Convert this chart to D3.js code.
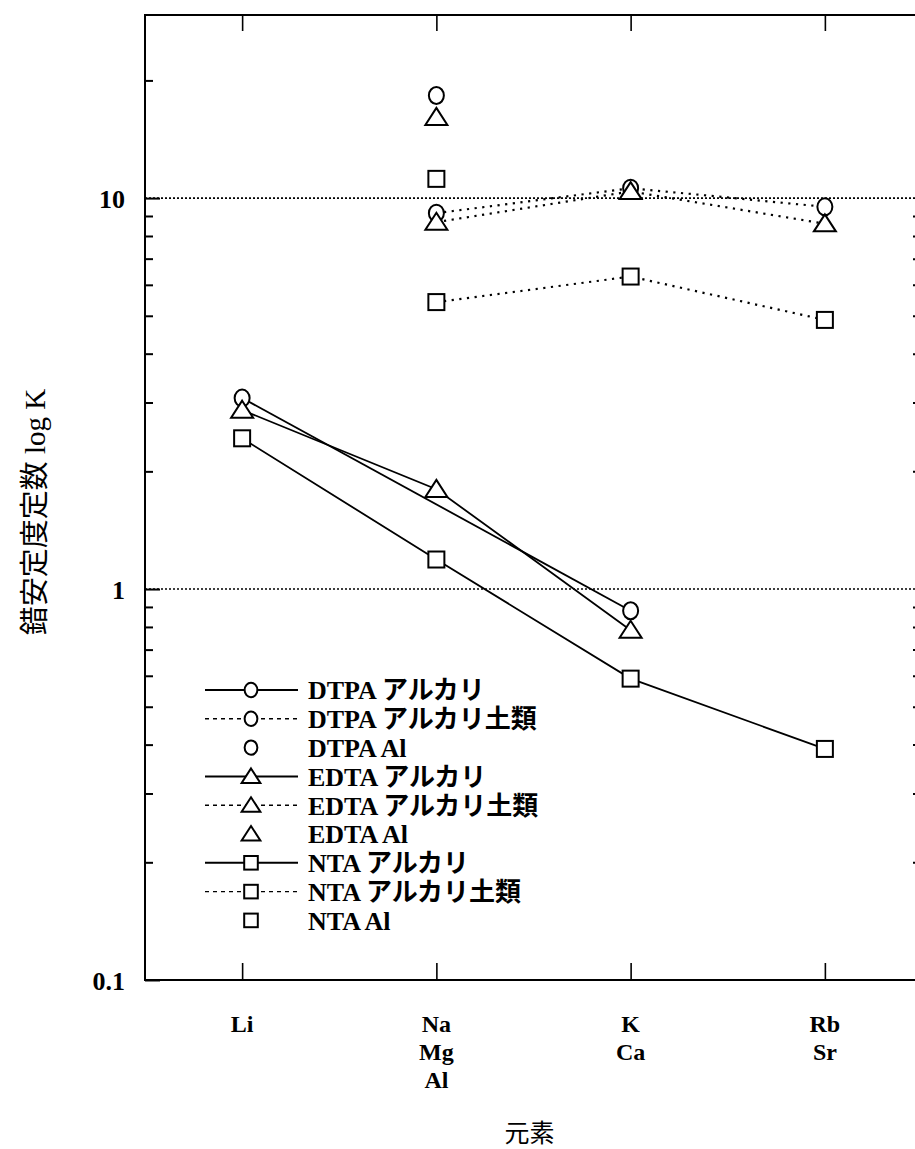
<!DOCTYPE html>
<html>
<head>
<meta charset="utf-8">
<script src="https://cdn.jsdelivr.net/npm/d3@7"></script>
<style>
  body { margin: 0; background: #fff; }
  svg { display: block; }
  text { fill: #000; }
</style>
</head>
<body>
<svg id="chart" width="915" height="1149"></svg>
<script>
// categories (element groups along the x axis)
var groups = ["Li", "Na", "K", "Rb"];
var groupLabels = [["Li"], ["Na", "Mg", "Al"], ["K", "Ca"], ["Rb", "Sr"]];

// stability constants (null = no point)
var dtpaAlkali = [3.08, null, 0.88, null];
var dtpaEarth  = [null, 9.15, 10.6, 9.5];
var dtpaAl     = [null, 18.3, null, null];
var edtaAlkali = [2.87, 1.80, 0.785, null];
var edtaEarth  = [null, 8.68, 10.4, 8.6];
var edtaAl     = [null, 16.1, null, null];
var ntaAlkali  = [2.43, 1.19, 0.59, 0.39];
var ntaEarth   = [null, 5.42, 6.3, 4.88];
var ntaAl      = [null, 11.2, null, null];

var majorTicks = [0.1, 1, 10];
var majorLabels = ["0.1", "1", "10"];
var minorTicks = [0.2, 0.3, 0.4, 0.5, 0.6, 0.7, 0.8, 0.9, 2, 3, 4, 5, 6, 7, 8, 9, 20];
var rightMinorTicks = [0.2, 0.3, 0.4, 0.5, 0.6, 0.7, 0.8, 0.9, 2, 3, 4, 5, 6, 7, 8, 9];

var yTitle = "錯安定度定数 log K";
var xTitle = "元素";

var series = [
    {name: "DTPA アルカリ",     values: dtpaAlkali, shape: "circle",   line: "solid"},
    {name: "DTPA アルカリ土類", values: dtpaEarth,  shape: "circle",   line: "dot"},
    {name: "DTPA Al",           values: dtpaAl,     shape: "circle",   line: "none"},
    {name: "EDTA アルカリ",     values: edtaAlkali, shape: "triangle", line: "solid"},
    {name: "EDTA アルカリ土類", values: edtaEarth,  shape: "triangle", line: "dot"},
    {name: "EDTA Al",           values: edtaAl,     shape: "triangle", line: "none"},
    {name: "NTA アルカリ",      values: ntaAlkali,  shape: "square",   line: "solid"},
    {name: "NTA アルカリ土類",  values: ntaEarth,   shape: "square",   line: "dot"},
    {name: "NTA Al",            values: ntaAl,      shape: "square",   line: "none"}
];

draw();

function draw() {
    var svg = d3.select("#chart");
    var pLeft = 145, pRight = 922, pTop = 15, pBottom = 980;
    var serif = "'Liberation Serif', 'Times New Roman', 'Noto Sans CJK JP', serif";

    var x = d3.scalePoint()
        .domain(groups)
        .range([pLeft, pRight])
        .padding(0.5);

    var y = d3.scaleLog()
        .domain([0.1, 29.4])
        .range([pBottom, pTop]);

    // dotted reference lines at 1 and 10
    svg.append("g").selectAll("line")
        .data([1, 10])
        .enter().append("line")
        .attr("x1", pLeft).attr("x2", pRight)
        .attr("y1", function(d) { return y(d); })
        .attr("y2", function(d) { return y(d); })
        .attr("stroke", "#000")
        .attr("stroke-width", 1.6)
        .attr("stroke-dasharray", "2,2");

    // frame
    svg.append("rect")
        .attr("x", pLeft).attr("y", pTop)
        .attr("width", pRight - pLeft).attr("height", pBottom - pTop)
        .attr("fill", "none")
        .attr("stroke", "#000")
        .attr("stroke-width", 2);

    // left axis: major ticks with labels
    var yAxis = d3.axisLeft(y)
        .tickValues(majorTicks)
        .tickSize(-15)
        .tickPadding(20)
        .tickFormat(function(d, i) { return majorLabels[i]; });

    var gy = svg.append("g")
        .attr("transform", "translate(" + pLeft + ",0)")
        .call(yAxis);
    gy.select(".domain").remove();
    gy.selectAll(".tick line").attr("stroke-width", 2);
    gy.selectAll(".tick text")
        .attr("font-family", serif)
        .attr("font-weight", "bold")
        .attr("font-size", 26)
        .attr("dy", "0.35em");

    // left axis minor ticks
    var gyMinor = svg.append("g")
        .attr("transform", "translate(" + pLeft + ",0)")
        .call(d3.axisLeft(y).tickValues(minorTicks).tickSize(-8).tickFormat(""));
    gyMinor.select(".domain").remove();
    gyMinor.selectAll(".tick line").attr("stroke-width", 2);

    // right axis minor ticks
    var gyRight = svg.append("g")
        .attr("transform", "translate(" + pRight + ",0)")
        .call(d3.axisRight(y).tickValues(rightMinorTicks).tickSize(-9).tickFormat(""));
    gyRight.select(".domain").remove();
    gyRight.selectAll(".tick line").attr("stroke-width", 2);

    // top and bottom category ticks
    var gxTop = svg.append("g")
        .attr("transform", "translate(0," + pTop + ")")
        .call(d3.axisTop(x).tickSize(-16).tickFormat(""));
    gxTop.select(".domain").remove();
    gxTop.selectAll(".tick line").attr("stroke-width", 1.6);

    var gxBottom = svg.append("g")
        .attr("transform", "translate(0," + pBottom + ")")
        .call(d3.axisBottom(x).tickSize(-17).tickFormat(""));
    gxBottom.select(".domain").remove();
    gxBottom.selectAll(".tick line").attr("stroke-width", 1.6);

    // category labels (stacked)
    var labelG = svg.append("g");
    groups.forEach(function(g, i) {
        labelG.append("text")
            .attr("x", x(g))
            .attr("y", 1032)
            .attr("text-anchor", "middle")
            .attr("font-family", serif)
            .attr("font-weight", "bold")
            .attr("font-size", 24)
            .selectAll("tspan")
            .data(groupLabels[i])
            .enter().append("tspan")
            .attr("x", x(g))
            .attr("dy", function(d, j) { return j === 0 ? 0 : 28; })
            .text(function(d) { return d; });
    });

    // axis titles
    svg.append("text")
        .attr("transform", "translate(35,512) rotate(-90)")
        .attr("text-anchor", "middle")
        .attr("dy", "0.35em")
        .attr("font-family", serif)
        .attr("font-size", 29)
        .text(yTitle);

    svg.append("text")
        .attr("x", (pLeft + pRight) / 2 - 4)
        .attr("y", 1142)
        .attr("text-anchor", "middle")
        .attr("font-family", serif)
        .attr("font-size", 25)
        .text(xTitle);

    // marker drawing
    function drawMarker(sel, shape, cx, cy, s) {
        if (shape === "circle") {
            sel.append("ellipse")
                .attr("cx", cx).attr("cy", cy)
                .attr("rx", 7.5 * s).attr("ry", 8.5 * s)
                .attr("fill", "#fff").attr("stroke", "#000").attr("stroke-width", 2);
        } else if (shape === "triangle") {
            var w = 11 * s, h = 17 * s;
            sel.append("path")
                .attr("d", "M" + cx + "," + (cy - h * 0.55) +
                           "L" + (cx + w) + "," + (cy + h * 0.45) +
                           "L" + (cx - w) + "," + (cy + h * 0.45) + "Z")
                .attr("fill", "#fff").attr("stroke", "#000").attr("stroke-width", 2);
        } else {
            var a = 8 * s;
            sel.append("rect")
                .attr("x", cx - a).attr("y", cy - a)
                .attr("width", 2 * a).attr("height", 2 * a)
                .attr("fill", "#fff").attr("stroke", "#000").attr("stroke-width", 2);
        }
    }

    var line = d3.line()
        .x(function(d) { return x(d.g); })
        .y(function(d) { return y(d.v); });

    function points(s) {
        return s.values
            .map(function(v, i) { return {g: groups[i], v: v}; })
            .filter(function(d) { return d.v !== null; });
    }

    // lines first
    var linesG = svg.append("g");
    series.forEach(function(s) {
        if (s.line === "none") return;
        linesG.append("path")
            .datum(points(s))
            .attr("d", line)
            .attr("fill", "none")
            .attr("stroke", "#000")
            .attr("stroke-width", s.line === "solid" ? 1.8 : 2.2)
            .attr("stroke-dasharray", s.line === "solid" ? null : "2.2,5.5");
    });

    // then markers
    var marksG = svg.append("g");
    series.forEach(function(s) {
        points(s).forEach(function(d) {
            drawMarker(marksG, s.shape, x(d.g), y(d.v), 1);
        });
    });

    // legend
    var legend = svg.append("g");
    var lx0 = 205, lx1 = 298, lm = 251, lt = 308, ly0 = 690, ldy = 28.8;
    series.forEach(function(s, i) {
        var ly = ly0 + i * ldy;
        if (s.line !== "none") {
            legend.append("line")
                .attr("x1", lx0).attr("x2", lx1)
                .attr("y1", ly).attr("y2", ly)
                .attr("stroke", "#000")
                .attr("stroke-width", s.line === "solid" ? 2 : 1.4)
                .attr("stroke-dasharray", s.line === "solid" ? null : "4,4");
        }
        drawMarker(legend, s.shape, lm, ly, 0.85);
        legend.append("text")
            .attr("x", lt)
            .attr("y", ly)
            .attr("dy", "0.36em")
            .attr("font-family", serif)
            .attr("font-weight", "bold")
            .attr("font-size", 26)
            .text(s.name);
    });
}
</script>
</body>
</html>
